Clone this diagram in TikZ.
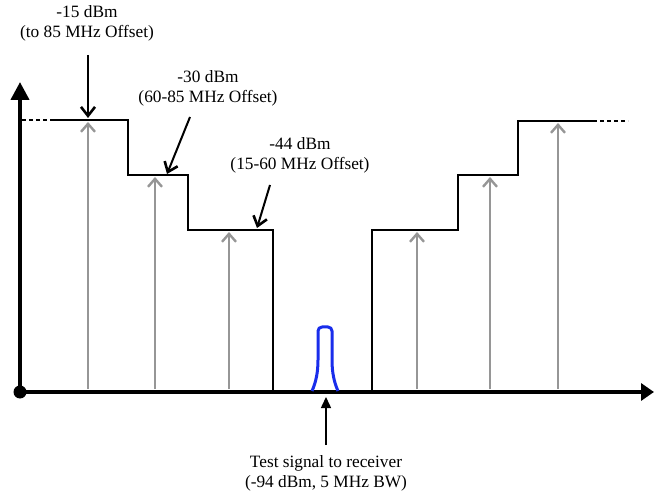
\documentclass[tikz,border=0pt]{standalone}
\usepackage{fontspec}
\setmainfont{Liberation Serif}
\usetikzlibrary{arrows.meta}
\definecolor{arrgray}{RGB}{150,150,150}
\definecolor{sigblue}{RGB}{25,45,235}
\begin{document}
\begin{tikzpicture}[x=1pt,y=-1pt,
  lbl/.style={inner sep=0pt,align=center,font=\fontsize{17.3}{20}\selectfont},
  level/.style={line width=2.2pt,black},
  dashlevel/.style={line width=2.2pt,black,dash pattern=on 4pt off 3pt},
  garrow/.style={line width=1.7pt,arrgray,-{Straight Barb[length=8pt,width=14pt,line width=2.4pt]}},
  carrow/.style={line width=2pt,black,-{Straight Barb[length=9pt,width=14pt,line width=2.6pt]}},
  axis/.style={line width=4pt,black,-{Triangle[length=18pt,width=18pt]}},
  xaxis/.style={line width=3.5pt,black,-{Triangle[length=13pt,width=17pt]}}
]
\useasboundingbox (0,0) rectangle (654,497);

% axes
\coordinate (O) at (20,392);
\coordinate (ytop) at (20,82);
\coordinate (xend) at (654,392);
\draw[axis] (O) -- (ytop);
\draw[xaxis] (O) -- (xend);
\fill (O) circle (6.5pt);

% gray arrows
\foreach \n/\x/\y in {a/88/122,b/155/177,c/229/232,d/417/232,e/490/177,f/558/123}{
  \coordinate (g\n0) at (\x,389);
  \coordinate (g\n1) at (\x,\y);
  \draw[garrow] (g\n0) -- (g\n1);
}

% left mask
\coordinate (L0) at (22,120);
\coordinate (L1) at (50,120);
\draw[dashlevel] (L0) -- (L1);
\draw[level] (L1) -- (128,120) -- (128,175) -- (188,175) -- (188,230) -- (273,230) -- (273,391);

% right mask
\coordinate (R0) at (372,391);
\coordinate (R1) at (593,121);
\coordinate (R2) at (628,121);
\draw[level] (R0) -- (372,230) -- (458,230) -- (458,175) -- (518,175) -- (518,121) -- (R1);
\draw[dashlevel] (R1) -- (R2);

% test signal
\draw[sigblue,line width=3pt,line join=round,rounded corners=4pt]
  (312,391) .. controls (316,382) and (318,372) .. (318,356) -- (318,327) -- (332,327) -- (332,356)
  .. controls (332,372) and (334,382) .. (338,391);

% labels
\node[lbl] (t15) at (87,23) {-15 dBm\\(to 85 MHz Offset)};
\node[lbl] (t30) at (208,88) {-30 dBm\\(60-85 MHz Offset)};
\node[lbl] (t44) at (300,155) {-44 dBm\\(15-60 MHz Offset)};
\node[lbl] (tts) at (326,473) {Test signal to receiver\\(-94 dBm, 5 MHz BW)};

% callout arrows
\coordinate (c15a) at (88,55);
\coordinate (c15b) at (88,118);
\coordinate (c30a) at (190,117);
\coordinate (c30b) at (167,174);
\coordinate (c44a) at (270,185);
\coordinate (c44b) at (257,228);
\draw[carrow] (c15a) -- (c15b);
\draw[carrow] (c30a) -- (c30b);
\draw[carrow] (c44a) -- (c44b);
\coordinate (cts) at (326,445);
\coordinate (ctsb) at (326,397);
\draw[line width=1.5pt,black,-{Triangle[length=11pt,width=10pt]}] (cts) -- (ctsb);
\end{tikzpicture}
\end{document}
